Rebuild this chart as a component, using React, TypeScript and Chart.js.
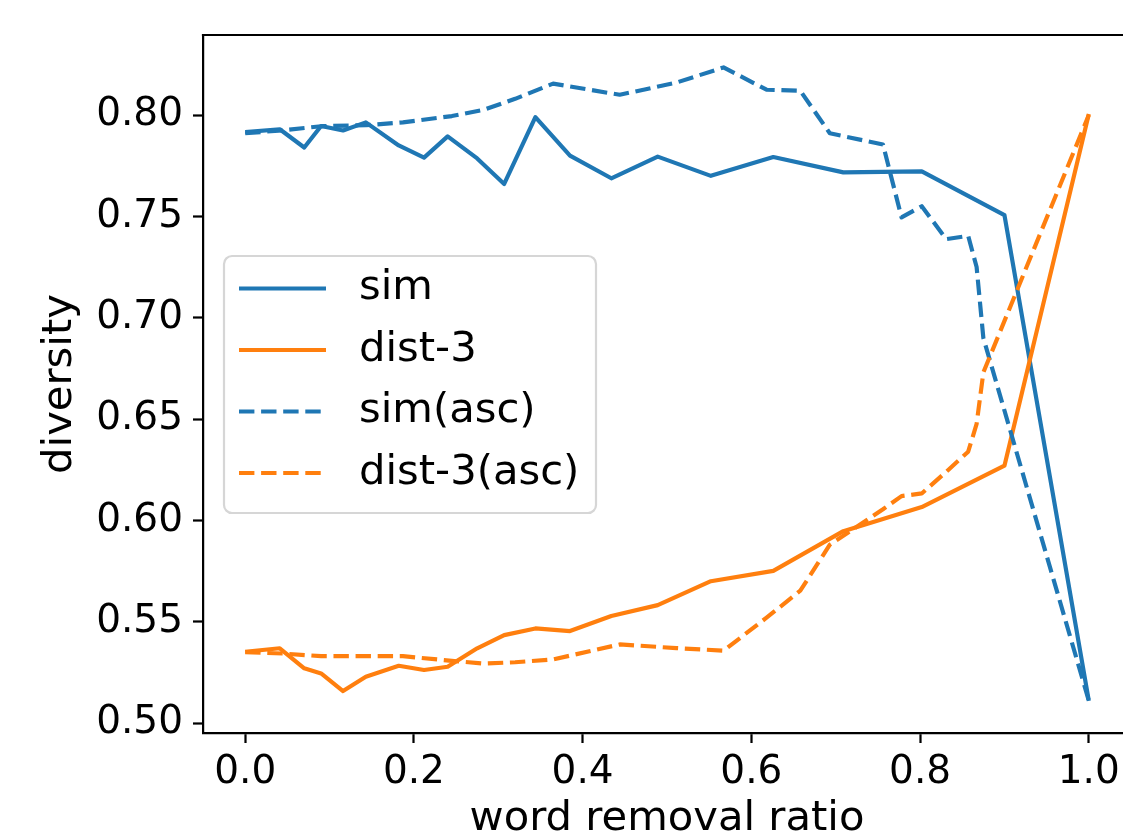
import React, { useEffect, useRef } from "react";
import { Chart, registerables } from "chart.js";

Chart.register(...registerables);

const simX = [0, 0.041, 0.07, 0.09, 0.116, 0.143, 0.182, 0.212, 0.24, 0.275, 0.307, 0.344, 0.385, 0.434, 0.489, 0.552, 0.626, 0.709, 0.802, 0.9, 1.0];
const simY = [0.7916, 0.793, 0.784, 0.7946, 0.7924, 0.7964, 0.785, 0.779, 0.7895, 0.7786, 0.766, 0.799, 0.78, 0.7688, 0.7795, 0.77, 0.7793, 0.7717, 0.7722, 0.7506, 0.511];
const dist3Y = [0.5352, 0.5369, 0.527, 0.5245, 0.5158, 0.5229, 0.5283, 0.5262, 0.5278, 0.5369, 0.5434, 0.5467, 0.5454, 0.5528, 0.5582, 0.57, 0.5751, 0.5947, 0.6066, 0.627, 0.8005];

const ascX = [0, 0.045, 0.09, 0.143, 0.187, 0.245, 0.282, 0.32, 0.365, 0.444, 0.511, 0.567, 0.618, 0.658, 0.693, 0.756, 0.778, 0.802, 0.831, 0.857, 0.867, 0.875, 1.0];
const simAscY = [0.791, 0.7925, 0.7945, 0.795, 0.7964, 0.7995, 0.8025, 0.808, 0.8155, 0.81, 0.816, 0.8235, 0.8125, 0.812, 0.791, 0.7855, 0.7495, 0.755, 0.7388, 0.7404, 0.725, 0.69, 0.511];
const dist3AscY = [0.535, 0.5343, 0.533, 0.533, 0.533, 0.5307, 0.5294, 0.53, 0.5314, 0.5388, 0.537, 0.5357, 0.552, 0.5653, 0.588, 0.6055, 0.612, 0.6133, 0.624, 0.6339, 0.6476, 0.673, 0.8];

const xTicks = [0, 0.2, 0.4, 0.6, 0.8, 1.0];
const yTicks = [0.5, 0.55, 0.6, 0.65, 0.7, 0.75, 0.8];

const labels = ["sim", "dist-3", "sim(asc)", "dist-3(asc)"];
const BLUE = "#1f77b4";
const ORANGE = "#ff7f0e";
const DASH = [15.4, 6.7];
const LW = 4.17;
const SPINE = 2.22;
const FONT = "DejaVu Sans";
const TICK_SIZE = 39;
const LABEL_SIZE = 41.7;

const zip = (xs: number[], ys: number[]) => xs.map((x, i) => ({ x, y: ys[i] }));

const frameLegend = {
  id: "frameLegend",
  afterDraw(chart: any) {
    const ctx = chart.ctx;
    const a = chart.chartArea;
    ctx.save();
    // top spine
    ctx.strokeStyle = "#000";
    ctx.lineWidth = SPINE;
    ctx.beginPath();
    ctx.moveTo(a.left - SPINE / 2, a.top);
    ctx.lineTo(a.right, a.top);
    ctx.stroke();

    // legend
    const bx = a.left + 21, by = a.top + 221, bw = 372, bh = 257, r = 8;
    ctx.beginPath();
    ctx.moveTo(bx + r, by);
    ctx.lineTo(bx + bw - r, by);
    ctx.arcTo(bx + bw, by, bx + bw, by + r, r);
    ctx.lineTo(bx + bw, by + bh - r);
    ctx.arcTo(bx + bw, by + bh, bx + bw - r, by + bh, r);
    ctx.lineTo(bx + r, by + bh);
    ctx.arcTo(bx, by + bh, bx, by + bh - r, r);
    ctx.lineTo(bx, by + r);
    ctx.arcTo(bx, by, bx + r, by, r);
    ctx.closePath();
    ctx.fillStyle = "rgba(255,255,255,0.8)";
    ctx.fill();
    ctx.strokeStyle = "#d6d6d6";
    ctx.lineWidth = SPINE;
    ctx.stroke();

    const ds = chart.data.datasets;
    ctx.font = `${LABEL_SIZE}px "${FONT}"`;
    ctx.textBaseline = "middle";
    ctx.textAlign = "left";
    for (let i = 0; i < ds.length; i++) {
      const cy = by + 32.5 + i * 61.5;
      ctx.beginPath();
      ctx.setLineDash(ds[i].borderDash || []);
      ctx.lineCap = "butt";
      ctx.strokeStyle = ds[i].borderColor;
      ctx.lineWidth = LW;
      ctx.moveTo(bx + 15, cy);
      ctx.lineTo(bx + 102, cy);
      ctx.stroke();
      ctx.setLineDash([]);
      ctx.fillStyle = "#000";
      ctx.fillText(ds[i].label, bx + 135, cy);
    }
    ctx.restore();
  },
};

export default function App() {
  const ref = useRef<HTMLCanvasElement | null>(null);
  useEffect(() => {
    if (!ref.current) return;
    Chart.defaults.font.family = FONT;
    Chart.defaults.color = "#000";
    const chart = new Chart(ref.current, {
      type: "line",
      data: {
        datasets: [
          { label: labels[0], data: zip(simX, simY), borderColor: BLUE, borderWidth: LW, pointRadius: 0, fill: false, order: 4, borderJoinStyle: "round", borderCapStyle: "butt" },
          { label: labels[1], data: zip(simX, dist3Y), borderColor: ORANGE, borderWidth: LW, pointRadius: 0, fill: false, order: 3, borderJoinStyle: "round", borderCapStyle: "butt" },
          { label: labels[2], data: zip(ascX, simAscY), borderColor: BLUE, borderWidth: LW, borderDash: DASH, pointRadius: 0, fill: false, order: 2, borderJoinStyle: "round", borderCapStyle: "butt" },
          { label: labels[3], data: zip(ascX, dist3AscY), borderColor: ORANGE, borderWidth: LW, borderDash: DASH, pointRadius: 0, fill: false, order: 1, borderJoinStyle: "round", borderCapStyle: "butt" },
        ] as any,
      },
      options: {
        animation: false,
        responsive: false,
        devicePixelRatio: 1,
        layout: { padding: { top: 35, left: 0, right: 0, bottom: 0 } },
        plugins: { legend: { display: false }, tooltip: { enabled: false } },
        scales: {
          x: {
            type: "linear",
            min: -0.05,
            max: 1.05,
            afterFit: (s: any) => { s.height = 127; },
            afterBuildTicks: (s: any) => { s.ticks = xTicks.map((v) => ({ value: v })); },
            ticks: { font: { size: TICK_SIZE, family: FONT }, color: "#000", padding: 6, maxRotation: 0, autoSkip: false, callback: (v: any) => Number(v).toFixed(1) },
            grid: { display: true, drawOnChartArea: false, drawTicks: true, tickLength: 10, tickWidth: SPINE, tickColor: "#000" },
            border: { display: true, color: "#000", width: SPINE },
            title: { display: true, text: "word removal ratio", font: { size: LABEL_SIZE, family: FONT }, color: "#000", padding: { top: 0, bottom: 15.6 } },
          },
          y: {
            type: "linear",
            min: 0.4951,
            max: 0.8395,
            afterFit: (s: any) => { s.width = 203; },
            afterBuildTicks: (s: any) => { s.ticks = yTicks.map((v) => ({ value: v })); },
            ticks: { font: { size: TICK_SIZE, family: FONT }, color: "#000", padding: 10, autoSkip: false, callback: (v: any) => Number(v).toFixed(2) },
            grid: { display: true, drawOnChartArea: false, drawTicks: true, tickLength: 10, tickWidth: SPINE, tickColor: "#000" },
            border: { display: true, color: "#000", width: SPINE },
            title: { display: true, text: "diversity", font: { size: LABEL_SIZE, family: FONT }, color: "#000", padding: { top: 35, bottom: 0 } },
          },
        },
      },
      plugins: [frameLegend],
    } as any);
    return () => chart.destroy();
  }, []);
  return (
    <div style={{ position: "fixed", left: 0, top: 0, width: 1123, height: 835, overflow: "hidden", background: "#fff" }}>
      <canvas ref={ref} width={1131} height={860} style={{ display: "block" }} />
    </div>
  );
}
